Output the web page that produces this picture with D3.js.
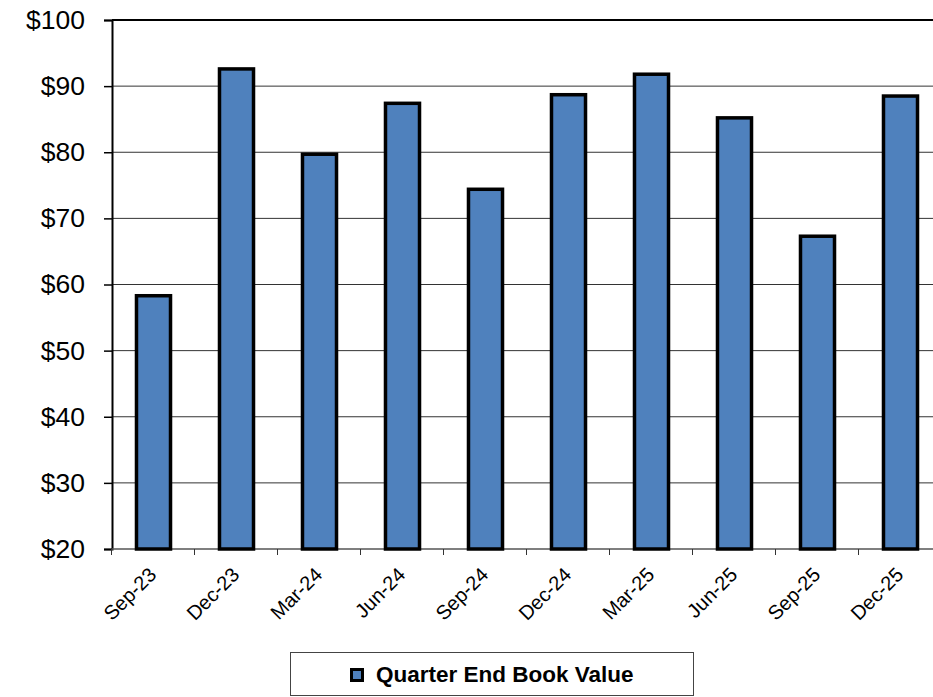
<!DOCTYPE html>
<html>
<head>
<meta charset="utf-8">
<script src="https://cdn.jsdelivr.net/npm/d3@7"></script>
<style>
  body { margin: 0; background: #fff; }
  svg { display: block; font-family: "Liberation Sans", Arial, sans-serif; }
</style>
</head>
<body>
<svg width="933" height="697"></svg>
<script>
const quarters = ["Sep-23", "Dec-23", "Mar-24", "Jun-24", "Sep-24", "Dec-24", "Mar-25", "Jun-25", "Sep-25", "Dec-25"]
const bookValues = [58.3, 92.6, 79.7, 87.4, 74.4, 88.7, 91.8, 85.2, 67.3, 88.5]
const yTicks = [20, 30, 40, 50, 60, 70, 80, 90, 100]
const seriesName = "Quarter End Book Value"

const svg = d3.select("svg")
const plotLeft = 112, plotTop = 20, plotBottom = 549
const band = 83

const x = d3.scaleBand()
  .domain(quarters)
  .range([plotLeft, plotLeft + band * quarters.length])
  .paddingInner(0.59)
  .paddingOuter(0.295)

const y = d3.scaleLinear().domain([20, 100]).range([plotBottom, plotTop])

// gridlines
svg.append("g")
  .selectAll("line")
  .data(yTicks.slice(1))
  .join("line")
  .attr("x1", plotLeft).attr("x2", 933)
  .attr("y1", d => y(d)).attr("y2", d => y(d))
  .attr("stroke", d => d === 100 ? "#000" : "#333")
  .attr("stroke-width", d => d === 100 ? 2 : 1)

// y axis
const yAxis = svg.append("g")
  .attr("transform", `translate(${plotLeft},0)`)
  .call(d3.axisLeft(y).tickValues(yTicks).tickSize(8).tickPadding(19).tickFormat(d => "$" + d))
yAxis.attr("font-size", null).attr("font-family", null)
yAxis.select(".domain").attr("stroke", "#000").attr("stroke-width", 2)
yAxis.selectAll(".tick line").attr("stroke", "#000").attr("stroke-width", 1.5)
yAxis.selectAll("text").style("font-size", "26.5px").attr("fill", "#000")

// x axis
const xAxis = svg.append("g")
  .attr("transform", `translate(0,${plotBottom})`)
xAxis.append("line")
  .attr("x1", plotLeft).attr("x2", 933)
  .attr("stroke", "#555").attr("stroke-width", 1.5)
xAxis.selectAll(".xt")
  .data(quarters)
  .join("line")
  .attr("class", "xt")
  .attr("x1", d => x(d) - x.step() * 0.295 - 0.5)
  .attr("x2", d => x(d) - x.step() * 0.295 - 0.5)
  .attr("y1", 0).attr("y2", 6)
  .attr("stroke", "#333")
xAxis.selectAll("text")
  .data(quarters)
  .join("text")
  .attr("transform", d => `translate(${x(d) + x.bandwidth() / 2 + 4},${27}) rotate(-45)`)
  .attr("text-anchor", "end")
  .style("font-size", "20px")
  .attr("fill", "#000")
  .text(d => d)

// bars
svg.append("g")
  .selectAll("rect")
  .data(bookValues)
  .join("rect")
  .attr("x", (d, i) => x(quarters[i]))
  .attr("y", d => y(d))
  .attr("width", x.bandwidth())
  .attr("height", d => plotBottom - y(d))
  .attr("fill", "#4f81bd")
  .attr("stroke", "#000")
  .attr("stroke-width", 3.5)

// legend
const legend = svg.append("g")
legend.append("rect")
  .attr("x", 290.5).attr("y", 652.5)
  .attr("width", 403).attr("height", 43)
  .attr("fill", "#fff").attr("stroke", "#444")
legend.append("rect")
  .attr("x", 351.5).attr("y", 669.5)
  .attr("width", 11).attr("height", 11)
  .attr("fill", "#4f81bd").attr("stroke", "#000").attr("stroke-width", 3)
legend.append("text")
  .attr("x", 376).attr("y", 682)
  .style("font-size", "22.5px").attr("font-weight", "bold")
  .text(seriesName)
</script>
</body>
</html>
